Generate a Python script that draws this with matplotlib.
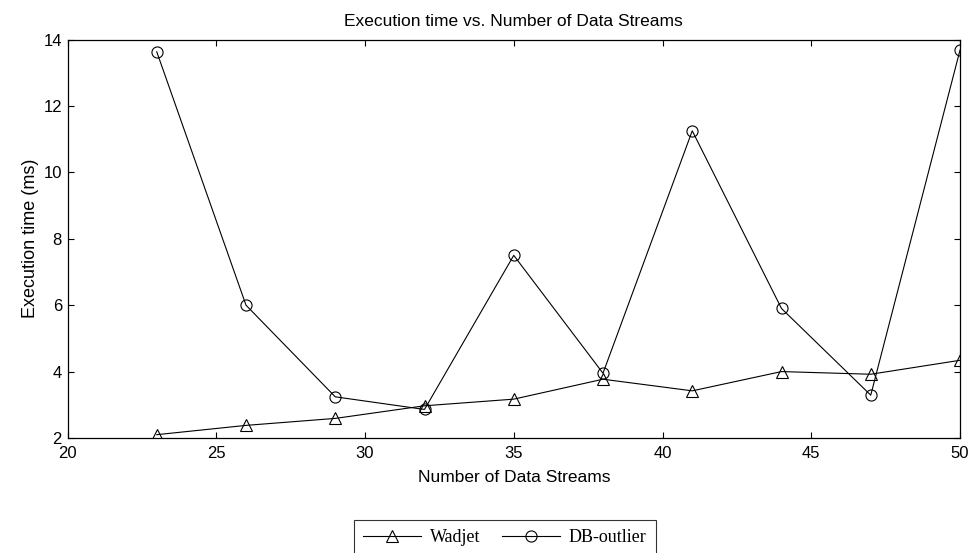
import matplotlib
matplotlib.use("Agg")
import matplotlib.pyplot as plt

streams = [23, 26, 29, 32, 35, 38, 41, 44, 47, 50]
wadjet = [2.10, 2.38, 2.59, 2.97, 3.17, 3.77, 3.42, 4.00, 3.92, 4.34]
db_outlier = [13.63, 6.00, 3.24, 2.86, 7.50, 3.95, 11.25, 5.90, 3.29, 13.68]

x_ticks = [20, 25, 30, 35, 40, 45, 50]
y_ticks = [2, 4, 6, 8, 10, 12, 14]

plt.rcParams["font.family"] = ["Liberation Sans", "DejaVu Sans"]

fig = plt.figure(figsize=(9.69, 5.53), dpi=100)
ax = fig.add_axes([67.5 / 969, 1 - 438 / 553, (960 - 67.5) / 969, (438 - 39.5) / 553])

ax.plot(streams, wadjet, color="black", lw=0.8, marker="^", ms=9,
        mfc="none", mec="black", mew=0.8, label="Wadjet")
ax.plot(streams, db_outlier, color="black", lw=0.8, marker="o", ms=8,
        mfc="none", mec="black", mew=0.8, label="DB-outlier")

ax.set_xlim(20, 50)
ax.set_ylim(2, 14)
ax.set_xticks(x_ticks)
ax.set_yticks(y_ticks)
ax.tick_params(direction="in", length=4, width=0.8, labelsize=12,
               top=True, right=True, colors="black")
ax.tick_params(axis="x", pad=6)
ax.tick_params(axis="y", pad=4)
for s in ax.spines.values():
    s.set_linewidth(0.9)

ax.set_title("Execution time vs. Number of Data Streams", fontsize=12.5, pad=10)
ax.set_xlabel("Number of Data Streams", fontsize=12.5, labelpad=6)
ax.set_ylabel("Execution time (ms)", fontsize=13, labelpad=3)

leg = fig.legend(loc="upper center", bbox_to_anchor=(505 / 969, 1 - 520 / 553),
                 ncol=2, frameon=True, fancybox=False, edgecolor="black",
                 handlelength=3.2, handletextpad=0.5, columnspacing=1.2,
                 borderpad=0.5, borderaxespad=0,
                 prop={"family": "Liberation Serif", "size": 13})
leg.get_frame().set_linewidth(0.8)

fig.savefig("out.png", dpi=100, facecolor="white")
